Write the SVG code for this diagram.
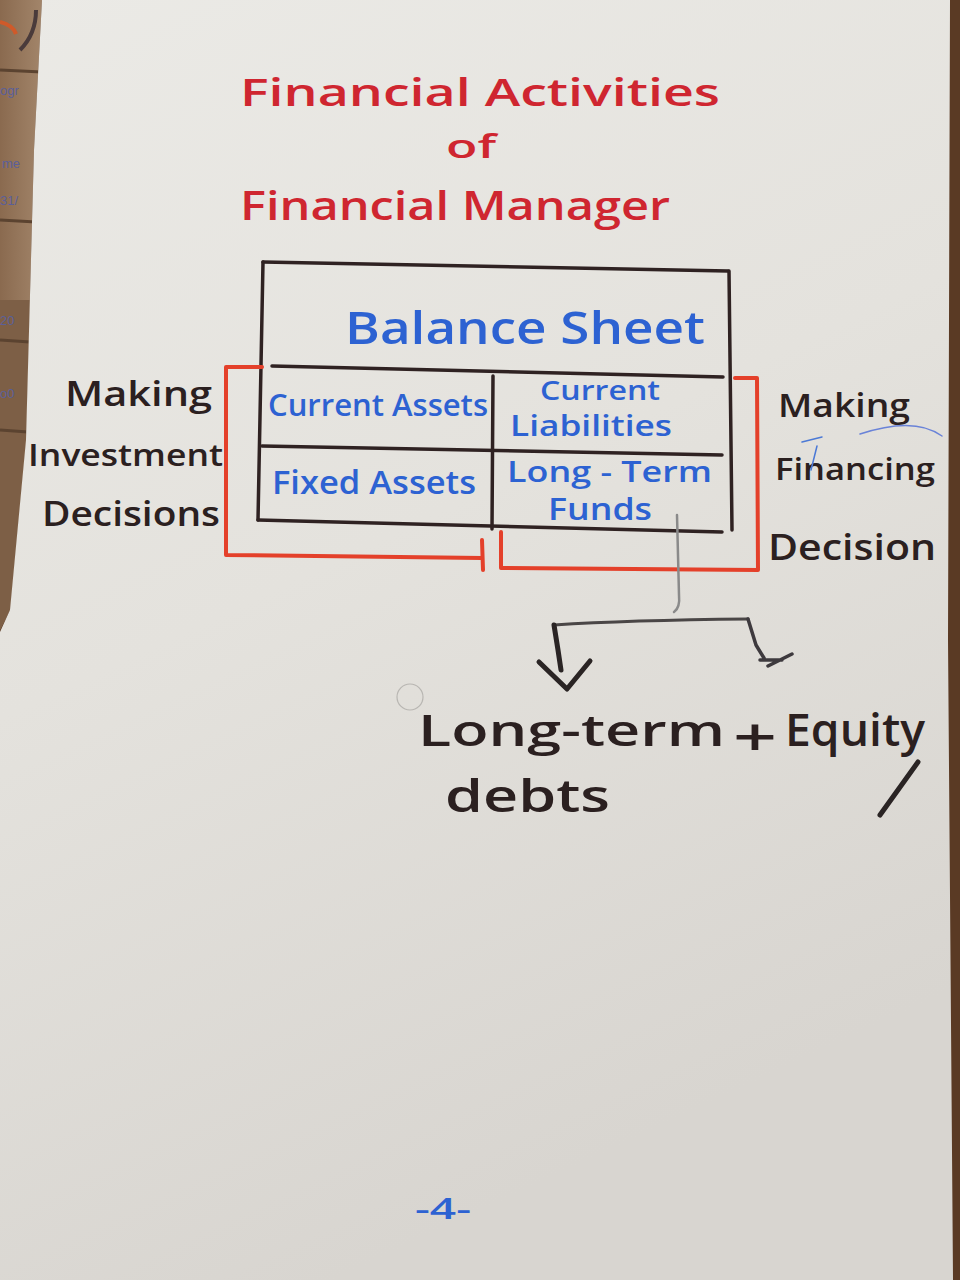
<svg xmlns="http://www.w3.org/2000/svg" width="960" height="1280" viewBox="0 0 960 1280">
  <defs>
    <linearGradient id="paperShade" x1="0" y1="0" x2="0.35" y2="1">
      <stop offset="0" stop-color="#ebeae6"/>
      <stop offset="0.5" stop-color="#e4e2dd"/>
      <stop offset="1" stop-color="#d8d5d0"/>
    </linearGradient>
    <linearGradient id="board" x1="0" y1="0" x2="1" y2="0">
      <stop offset="0" stop-color="#8a6a4f"/>
      <stop offset="1" stop-color="#a4876c"/>
    </linearGradient>
    <clipPath id="leftStrip">
      <polygon points="0,0 42,0 34,150 26,440 10,610 0,630"/>
    </clipPath>
    <style>
      .hand { font-family: "Open Sans", "Liberation Sans", sans-serif; font-weight: 600; }
      .red { fill: #cf2630; }
      .blue { fill: #2d62d2; }
      .ink { fill: #2b2020; }
      .frame { fill: none; stroke: #2f2222; stroke-width: 3.5; stroke-linecap: round; stroke-linejoin: round; }
      .bracket { fill: none; stroke: #e4402a; stroke-width: 4; stroke-linecap: round; stroke-linejoin: round; }
      .pen { fill: none; stroke: #2a2424; stroke-width: 5; stroke-linecap: round; stroke-linejoin: round; }
      .pencil { fill: none; stroke: #8a8a8a; stroke-width: 2.5; stroke-linecap: round; stroke-linejoin: round; }
    </style>
  </defs>

  <!-- desk / board behind the sheet -->
  <rect x="0" y="0" width="960" height="1280" fill="#5a3a24"/>
  <g clip-path="url(#leftStrip)">
    <rect x="0" y="0" width="45" height="640" fill="url(#board)"/>
    <rect x="0" y="300" width="45" height="340" fill="#7d5f46"/>
    <g stroke="#5b4330" stroke-width="3">
      <line x1="0" y1="70" x2="42" y2="72"/>
      <line x1="0" y1="220" x2="36" y2="222"/>
      <line x1="0" y1="340" x2="30" y2="342"/>
      <line x1="0" y1="430" x2="28" y2="432"/>
    </g>
    <path d="M0,22 C8,24 14,28 16,34" fill="none" stroke="#cf5a2a" stroke-width="4"/>
    <path d="M20,50 C30,40 36,28 36,10" fill="none" stroke="#4a3b3b" stroke-width="4"/>
    <g font-family="Liberation Sans, sans-serif" font-size="13" fill="#5a5f9a">
      <text x="0" y="95">ogr</text>
      <text x="2" y="168">me</text>
      <text x="0" y="205">31/</text>
      <text x="0" y="325">20</text>
      <text x="0" y="398">o0</text>
    </g>
  </g>

  <!-- the sheet of paper -->
  <polygon points="42,0 950,0 948,640 953,1280 0,1280 0,632 10,610 26,440 34,150" fill="url(#paperShade)"/>

  <!-- title -->
  <g id="title" class="hand red">
    <text x="240" y="106" font-size="38" textLength="480" lengthAdjust="spacingAndGlyphs">Financial  Activities</text>
    <text x="446" y="158" font-size="32" textLength="50" lengthAdjust="spacingAndGlyphs">of</text>
    <text x="240" y="220" font-size="40" textLength="430" lengthAdjust="spacingAndGlyphs">Financial Manager</text>
  </g>

  <!-- balance sheet table -->
  <g id="balance-sheet">
    <path class="frame" d="M263,262 L728,271"/>
    <path class="frame" d="M263,262 L258,520"/>
    <path class="frame" d="M729,271 L732,530"/>
    <path class="frame" d="M272,366 L723,377"/>
    <path class="frame" d="M262,446 L722,455"/>
    <path class="frame" d="M258,520 L722,532"/>
    <path class="frame" d="M493,376 L492,529"/>
    <text class="hand blue" x="345" y="344" font-size="46" textLength="360" lengthAdjust="spacingAndGlyphs">Balance Sheet</text>
  </g>

  <g id="current-assets">
    <text class="hand blue" x="268" y="416" font-size="31" textLength="220" lengthAdjust="spacingAndGlyphs">Current Assets</text>
  </g>
  <g id="current-liabilities">
    <text class="hand blue" x="540" y="400" font-size="27" textLength="120" lengthAdjust="spacingAndGlyphs">Current</text>
    <text class="hand blue" x="510" y="436" font-size="28" textLength="162" lengthAdjust="spacingAndGlyphs">Liabilities</text>
  </g>
  <g id="fixed-assets">
    <text class="hand blue" x="272" y="494" font-size="33" textLength="204" lengthAdjust="spacingAndGlyphs">Fixed Assets</text>
  </g>
  <g id="long-term-funds">
    <text class="hand blue" x="507" y="482" font-size="29" textLength="205" lengthAdjust="spacingAndGlyphs">Long - Term</text>
    <text class="hand blue" x="548" y="520" font-size="30" textLength="104" lengthAdjust="spacingAndGlyphs">Funds</text>
  </g>

  <!-- side labels -->
  <g id="investment-decisions" class="hand ink">
    <text x="65" y="406" font-size="35" textLength="147" lengthAdjust="spacingAndGlyphs">Making</text>
    <text x="28" y="466" font-size="30" textLength="195" lengthAdjust="spacingAndGlyphs">Investment</text>
    <text x="42" y="526" font-size="34" textLength="178" lengthAdjust="spacingAndGlyphs">Decisions</text>
  </g>
  <g id="financing-decisions" class="hand ink">
    <text x="778" y="417" font-size="32" textLength="132" lengthAdjust="spacingAndGlyphs">Making</text>
    <text x="775" y="480" font-size="31" textLength="160" lengthAdjust="spacingAndGlyphs">Financing</text>
    <text x="768" y="560" font-size="36" textLength="168" lengthAdjust="spacingAndGlyphs">Decision</text>
    <path d="M860,434 C890,424 920,420 942,436" fill="none" stroke="#6a83d8" stroke-width="1.5" stroke-linecap="round"/>
    <path d="M802,442 L822,437 M817,446 L811,470" fill="none" stroke="#4b79d6" stroke-width="1.5" stroke-linecap="round"/>
  </g>

  <!-- outcome -->
  <g id="long-term-debts" class="hand ink">
    <text x="418" y="746" font-size="44" textLength="307" lengthAdjust="spacingAndGlyphs">Long-term</text>
    <text x="445" y="812" font-size="46" textLength="165" lengthAdjust="spacingAndGlyphs">debts</text>
    <text x="733" y="756" font-size="52" textLength="44" lengthAdjust="spacingAndGlyphs">+</text>
  </g>
  <g id="equity" class="hand ink">
    <text x="785" y="746" font-size="46" textLength="140" lengthAdjust="spacingAndGlyphs">Equity</text>
    <path class="pen" d="M918,762 L880,815"/>
  </g>
  <circle cx="410" cy="697" r="13" fill="none" stroke="#b8b6b2" stroke-width="1.2"/>

  <!-- connectors -->
  <g id="connectors">
    <!-- red brackets grouping the two sides of the sheet -->
    <path class="bracket" d="M262,367 L226,367 L226,555 L482,558 M482,540 L483,570"/>
    <path class="bracket" d="M501,532 L501,568 L758,570 L757,378 L735,378"/>
    <!-- split of long-term funds -->
    <path class="pencil" d="M677,515 L679,595 C680,605 677,610 674,612"/>
    <path fill="none" stroke="#4a4646" stroke-width="3" stroke-linecap="round" d="M554,625 C600,622 650,620 748,619"/>
    <path class="pen" stroke-width="4.5" d="M554,625 L558,650 L561,670"/>
    <path class="pen" stroke-width="4.5" d="M539,662 L567,689 L590,661"/>
    <path fill="none" stroke="#3e3a3e" stroke-width="3.5" stroke-linecap="round" stroke-linejoin="round" d="M748,619 L756,645 L764,658 M768,666 L792,654 M760,660 L782,660"/>
  </g>

  <!-- page number -->
  <g id="page-number">
    <text class="hand blue" x="415" y="1219" font-size="28" textLength="56" lengthAdjust="spacingAndGlyphs">-4-</text>
  </g>
</svg>
